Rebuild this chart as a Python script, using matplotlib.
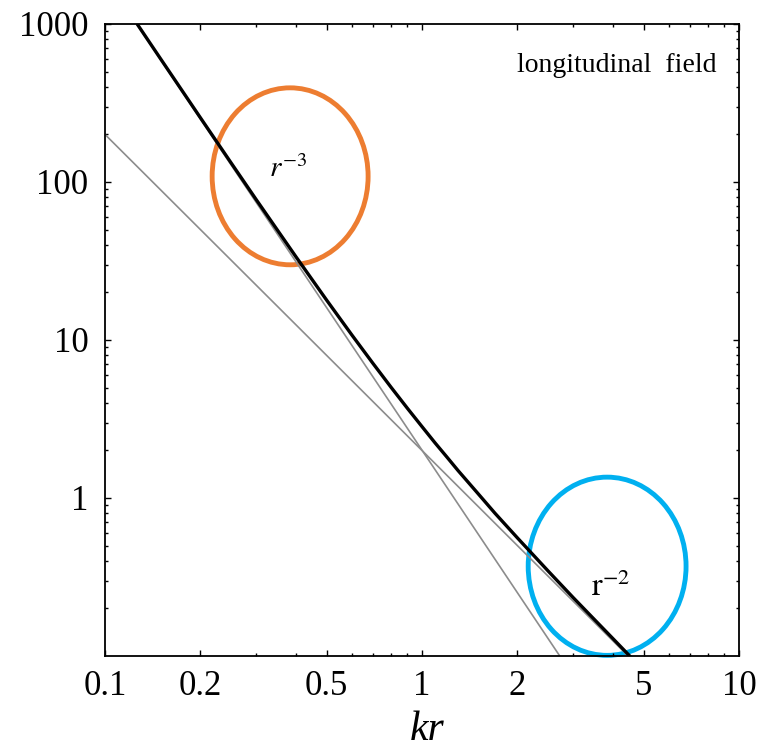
import matplotlib
matplotlib.use("Agg")
import matplotlib.pyplot as plt
import matplotlib.ticker as mtick
from matplotlib.patches import Ellipse

# sampled longitudinal near-field magnitude vs kr
kr = [0.127, 0.15, 0.2, 0.25, 0.3, 0.4, 0.5, 0.6, 0.7, 0.8, 0.9, 1.0,
      1.1, 1.2, 1.3, 1.5, 1.7, 2.0, 2.5, 3.0, 3.5, 4.0, 4.5, 4.6]
field = [984, 599, 255, 132, 77.3, 33.7, 17.9, 10.8, 7.12, 5.00, 3.69, 2.83,
         2.23, 1.81, 1.49, 1.07, 0.80, 0.559, 0.345, 0.234, 0.170, 0.129, 0.101, 0.096]

# asymptotes r^-3 and r^-2
kr_r3 = [0.126, 2.72]
val_r3 = [1000, 0.1]
kr_r2 = [0.1, 4.47]
val_r2 = [200, 0.1]

xticks = [0.1, 0.2, 0.5, 1, 2, 5, 10]
xticklabels = ["0.1", "0.2", "0.5", "1", "2", "5", "10"]
yticks = [1, 10, 100, 1000]
yticklabels = ["1", "10", "100", "1000"]

plt.rcParams['font.family'] = ['Liberation Serif', 'DejaVu Serif']
plt.rcParams['mathtext.fontset'] = 'stix'

fig = plt.figure(figsize=(7.61, 7.5), dpi=100)
ax = fig.add_axes([105/761, 1-656/750, 634/761, 632/750])

ax.plot(kr_r2, val_r2, color='#8c8c8c', lw=1.2)
ax.plot(kr_r3, val_r3, color='#8c8c8c', lw=1.2)
ax.plot(kr, field, color='black', lw=2.4)

ax.set_xscale('log')
ax.set_yscale('log')
ax.set_xlim(0.1, 10)
ax.set_ylim(0.1, 1000)

ax.set_xticks(xticks)
ax.set_xticklabels(xticklabels)
ax.set_yticks(yticks)
ax.set_yticklabels(yticklabels)
ax.xaxis.set_minor_locator(mtick.FixedLocator(
    [0.3, 0.4, 0.6, 0.7, 0.8, 0.9, 3, 4, 6, 7, 8, 9]))
ax.yaxis.set_minor_locator(mtick.LogLocator(base=10, subs=range(2, 10)))
ax.xaxis.set_minor_formatter(mtick.NullFormatter())
ax.yaxis.set_minor_formatter(mtick.NullFormatter())

ax.tick_params(which='both', direction='in', top=True, right=True,
               labelsize=25, width=1.0)
ax.tick_params(which='major', length=4)
ax.tick_params(which='minor', length=2.5)
ax.tick_params(axis='x', pad=10)
ax.tick_params(axis='y', pad=12)
for sp in ax.spines.values():
    sp.set_linewidth(1.3)

ax.set_xlabel('kr', fontsize=30, style='italic')
ax.xaxis.set_label_coords((427-105)/634, -(710-656)/632)

ax.text(0.965, 0.935, 'longitudinal  field', transform=ax.transAxes,
        ha='right', va='center', fontsize=20)
ax.text(0.288, 0.77, r'$r^{-3}$', transform=ax.transAxes,
        ha='center', va='center', fontsize=21)
ax.text(0.797, 0.108, r'$\mathrm{r}^{-2}$', transform=ax.transAxes,
        ha='center', va='center', fontsize=23)

# highlight rings
ax.add_patch(Ellipse((0.292, 0.759), 0.246, 0.280, transform=ax.transAxes,
                     fill=False, edgecolor='#ED7D31', lw=3.5, clip_on=False))
ax.add_patch(Ellipse((0.792, 0.142), 0.249, 0.282, transform=ax.transAxes,
                     fill=False, edgecolor='#00B0F0', lw=3.5, clip_on=False))

plt.savefig('out.png', dpi=100)
